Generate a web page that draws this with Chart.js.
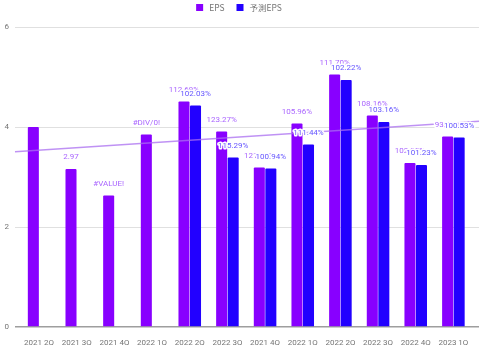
<!DOCTYPE html>
<html><head><meta charset="utf-8">
<script src="https://cdn.jsdelivr.net/npm/chart.js@4"></script>
<style>html,body{margin:0;padding:0;background:#fff}#wrap{width:480px;height:345px}</style>
</head><body><div id="wrap"><canvas id="c" width="480" height="345"></canvas></div>
<script>
const CATEGORIES = ['2021 2Q','2021 3Q','2021 4Q','2022 1Q','2022 2Q','2022 3Q','2021 4Q','2022 1Q','2022 2Q','2022 3Q','2022 4Q','2023 1Q'];
const EPS = [4.00, 3.16, 2.63, 3.85, 4.51, 3.91, 3.19, 4.07, 5.05, 4.23, 3.28, 3.81];
const FORECAST = [null, null, null, null, 4.43, 3.39, 3.17, 3.65, 4.94, 4.10, 3.24, 3.79];
const EPS_LABELS = ['', '2.97', '#VALUE!', '#DIV/0!', '112.69%', '123.27%', '121.58%', '105.96%', '111.70%', '108.16%', '102.05%', '93.83%'];
const FORECAST_LABELS = [null, null, null, null, '102.03%', '115.29%', '100.94%', '111.44%', '102.22%', '103.16%', '101.23%', '100.53%'];
const Y_TICKS = [0, 2, 4, 6];
const X_MIN = -0.64, X_MAX = 11.68;

const FONT = 'Roboto, "Noto Sans CJK JP", sans-serif';
const LEGEND_FONT = '"Noto Sans CJK JP", Roboto, sans-serif';
const EPS_COLOR = '#8800ff', FC_COLOR = '#2200ff';
const EPS_LABEL_COLOR = '#aa66ff', FC_LABEL_COLOR = '#6656ff';

// least-squares trendline of EPS
const n = EPS.length;
const mx = (n - 1) / 2;
const my = EPS.reduce((a, b) => a + b, 0) / n;
let sxy = 0, sxx = 0;
EPS.forEach((v, i) => { sxy += (i - mx) * (v - my); sxx += (i - mx) * (i - mx); });
const slope = sxy / sxx, icpt = my - slope * mx;
const trend = [X_MIN, X_MAX].map(x => ({x, y: icpt + slope * x}));

const labelPlugin = {
  id: 'barLabels',
  afterDatasetsDraw(chart) {
    const ctx = chart.ctx;
    ctx.save();
    ctx.font = '8px ' + FONT;
    ctx.textAlign = 'center';
    ctx.textBaseline = 'middle';
    ctx.lineJoin = 'round';
    [[0, EPS_LABELS, EPS_LABEL_COLOR], [1, FORECAST_LABELS, FC_LABEL_COLOR]].forEach(([di, labels, col]) => {
      const meta = chart.getDatasetMeta(di);
      meta.data.forEach((el, i) => {
        const t = labels[i];
        if (!t || el.skip || el.y == null || isNaN(el.y)) return;
        const y = el.y - 12;
        ctx.strokeStyle = '#fff';
        ctx.lineWidth = 3;
        ctx.strokeText(t, el.x, y);
        ctx.fillStyle = col;
        ctx.fillText(t, el.x, y);
      });
    });
    ctx.restore();
  }
};

const legendPlugin = {
  id: 'topLegend',
  afterDraw(chart) {
    const ctx = chart.ctx;
    ctx.save();
    ctx.font = '8.5px ' + LEGEND_FONT;
    const items = chart.data.datasets.filter(d => d.type !== 'line');
    const box = 7, gapText = 6, gapItem = 12;
    const widths = items.map(d => box + gapText + ctx.measureText(d.label).width);
    const total = widths.reduce((a, b) => a + b, 0) + gapItem * (items.length - 1);
    let x = 239 - total / 2;
    const cy = 7.5;
    items.forEach((d, i) => {
      ctx.fillStyle = d.backgroundColor;
      ctx.fillRect(x, cy - box / 2, box, box);
      ctx.fillStyle = '#757575';
      ctx.textBaseline = 'middle';
      ctx.textAlign = 'left';
      ctx.fillText(d.label, x + box + gapText, cy);
      x += widths[i] + gapItem;
    });
    ctx.restore();
  }
};

new Chart(document.getElementById('c'), {
  type: 'bar',
  data: {
    datasets: [
      { label: 'EPS', data: EPS.map((v, i) => ({x: i, y: v})), backgroundColor: EPS_COLOR, borderRadius: 1, order: 2,
        categoryPercentage: 0.612, barPercentage: 0.957 },
      { label: '予測EPS', data: FORECAST.map((v, i) => ({x: i, y: v})), backgroundColor: FC_COLOR, borderRadius: 1, order: 2,
        categoryPercentage: 0.612, barPercentage: 0.957 },
      { type: 'line', label: 'trend', data: trend, borderColor: 'rgba(170,110,240,0.75)', borderWidth: 1.5,
        pointRadius: 0, fill: false, order: 1, clip: false }
    ]
  },
  options: {
    responsive: false,
    animation: false,
    layout: { padding: { top: 27, right: 1, left: 0, bottom: 0 } },
    plugins: {
      tooltip: { enabled: false },
      legend: { display: false }
    },
    scales: {
      x: {
        type: 'linear', min: X_MIN, max: X_MAX, offset: false,
        grid: { display: false },
        border: { display: false },
        afterFit(s) { s.height = 18; },
        ticks: {
          stepSize: 1, includeBounds: false, autoSkip: false, maxRotation: 0, padding: 3,
          color: '#757575', font: { family: FONT, size: 8 },
          callback: v => CATEGORIES[v] ?? ''
        }
      },
      y: {
        min: Y_TICKS[0], max: Y_TICKS[Y_TICKS.length - 1],
        afterFit(s) { s.width = 15; },
        afterBuildTicks(s) { s.ticks = Y_TICKS.map(v => ({value: v})); },
        grid: {
          drawTicks: false,
          color: c => c.tick && c.tick.value === 0 ? '#9e9e9e' : '#e0e0e0',
          lineWidth: c => c.tick && c.tick.value === 0 ? 1.5 : 1
        },
        border: { display: false },
        ticks: { padding: 6, color: '#757575', font: { family: FONT, size: 8 } }
      }
    }
  },
  plugins: [labelPlugin, legendPlugin]
});
</script></body></html>
